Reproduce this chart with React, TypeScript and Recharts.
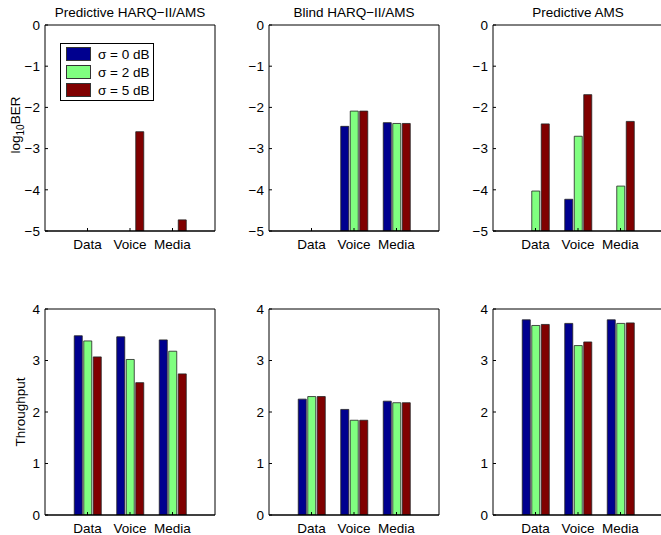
import { BarChart, Bar, XAxis, YAxis, Legend } from "recharts";

const categories = ["Data", "Voice", "Media"];
const seriesNames = ["σ = 0 dB", "σ = 2 dB", "σ = 5 dB"];
const seriesColors = ["#00008f", "#80ff80", "#800000"];
const titles = ["Predictive HARQ−II/AMS", "Blind HARQ−II/AMS", "Predictive AMS"];

// log10 BER (Data, Voice, Media)
const berPredHarq0 = [-5, -5, -5];
const berPredHarq2 = [-5, -5, -5];
const berPredHarq5 = [-5, -2.59, -4.73];
const berBlindHarq0 = [-5, -2.46, -2.37];
const berBlindHarq2 = [-5, -2.09, -2.39];
const berBlindHarq5 = [-5, -2.09, -2.39];
const berPredAms0 = [-5, -4.23, -5];
const berPredAms2 = [-4.03, -2.7, -3.91];
const berPredAms5 = [-2.4, -1.69, -2.34];

// throughput (Data, Voice, Media)
const thrPredHarq0 = [3.48, 3.46, 3.4];
const thrPredHarq2 = [3.38, 3.02, 3.18];
const thrPredHarq5 = [3.07, 2.57, 2.74];
const thrBlindHarq0 = [2.25, 2.05, 2.21];
const thrBlindHarq2 = [2.3, 1.84, 2.18];
const thrBlindHarq5 = [2.3, 1.84, 2.18];
const thrPredAms0 = [3.79, 3.72, 3.79];
const thrPredAms2 = [3.68, 3.29, 3.72];
const thrPredAms5 = [3.7, 3.36, 3.73];

const berTicks = [-5, -4, -3, -2, -1, 0];
const thrTicks = [0, 1, 2, 3, 4];

const FONT = '"Liberation Sans", Arial, Helvetica, sans-serif';
const FS = 13.5;

const toRows = (a: number[], b: number[], c: number[]) =>
  categories.map((cat, i) => ({ cat, s0: a[i], s1: b[i], s2: c[i] }));

const fmt = (v: number) => (v < 0 ? `−${-v}` : `${v}`);

const YTitle = (props: any) => {
  const vb = props.viewBox || { y: 25, height: 206 };
  const cy = vb.y + vb.height / 2 + (props.dy || 0);
  const { x0, sub } = props;
  return (
    <text
      transform={`translate(${x0},${cy}) rotate(-90)`}
      textAnchor="middle"
      fontSize={FS}
      fontFamily={FONT}
      fill="#000"
    >
      {sub ? (
        <>
          log
          <tspan dy={4} fontSize={10}>
            10
          </tspan>
          <tspan dy={-4}>BER</tspan>
        </>
      ) : (
        props.text
      )}
    </text>
  );
};

const LegendBox = ({ payload }: any) => (
  <div
    style={{
      border: "1.5px solid #000",
      background: "#fff",
      width: 92,
      fontFamily: FONT,
      fontSize: FS,
      padding: "1px 0",
    }}
  >
    {(payload || []).map((p: any) => (
      <div key={p.value} style={{ display: "flex", alignItems: "center", height: 18 }}>
        <span
          style={{
            display: "inline-block",
            marginLeft: 5,
            width: 23,
            height: 12,
            background: p.color,
            border: "1px solid #333",
          }}
        />
        <span style={{ marginLeft: 7 }}>{p.value}</span>
      </div>
    ))}
  </div>
);

interface PanelProps {
  left: number;
  top: number;
  title?: string;
  data: any[];
  domain: [number, number];
  ticks: number[];
  base?: number;
  yLabel?: any;
  showLegend?: boolean;
}

const Panel = ({ left, top, title, data, domain, ticks, base, yLabel, showLegend }: PanelProps) => {
  const keyFor = (k: string) =>
    base !== undefined ? (d: any) => [base, d[k]] : k;
  return (
    <div style={{ position: "absolute", left, top }}>
      <BarChart
        width={220}
        height={261}
        data={data}
        margin={{ top: 24, right: 4, bottom: 0, left: 0 }}
        barSize={8}
        barGap={1.5}
        style={{ fontFamily: FONT }}
      >
        <XAxis
          dataKey="cat"
          height={30}
          padding={{ left: 21.25, right: 21.25 }}
          tick={{ fill: "#000", fontSize: FS }}
          tickSize={-3}
          tickMargin={11}
          tickLine={{ stroke: "#000" }}
          axisLine={{ stroke: "#000", strokeWidth: 1.3 }}
        />
        <XAxis
          xAxisId="t"
          orientation="top"
          dataKey="cat"
          height={1}
          padding={{ left: 21.25, right: 21.25 }}
          tick={false}
          tickSize={-3}
          tickLine={{ stroke: "#000" }}
          axisLine={{ stroke: "#000" }}
          label={
            title
              ? { value: title, position: "top", offset: 7, fill: "#000", fontSize: FS }
              : undefined
          }
        />
        <YAxis
          type="number"
          width={45}
          domain={domain}
          ticks={ticks}
          allowDataOverflow
          tickFormatter={fmt}
          tick={{ fill: "#000", fontSize: FS }}
          tickSize={-3}
          tickMargin={8}
          tickLine={{ stroke: "#000" }}
          axisLine={{ stroke: "#000" }}
          label={yLabel}
        />
        <YAxis
          yAxisId="r"
          orientation="right"
          type="number"
          width={1}
          domain={domain}
          ticks={ticks}
          allowDataOverflow
          tick={false}
          tickSize={-3}
          tickLine={{ stroke: "#000" }}
          axisLine={{ stroke: "#000" }}
        />
        {showLegend && (
          <Legend
            layout="horizontal"
            verticalAlign="middle"
            align="center"
            wrapperStyle={{ left: 60, top: 43, width: 95 }}
            content={<LegendBox />}
          />
        )}
        {["s0", "s1", "s2"].map((k, i) => (
          <Bar
            key={k}
            dataKey={keyFor(k) as any}
            name={seriesNames[i]}
            fill={seriesColors[i]}
            stroke="#222"
            strokeWidth={0.8}
            isAnimationActive={false}
          />
        ))}
      </BarChart>
    </div>
  );
};

export default function App() {
  return (
    <div
      style={{
        position: "absolute",
        left: 0,
        top: 0,
        width: 661,
        height: 535,
        overflow: "hidden",
        background: "#fff",
        fontFamily: FONT,
      }}
    >
      <Panel
        left={0}
        top={0}
        title={titles[0]}
        data={toRows(berPredHarq0, berPredHarq2, berPredHarq5)}
        domain={[-5, 0]}
        ticks={berTicks}
        base={-5}
        yLabel={<YTitle x0={19.5} dy={-3} sub />}
        showLegend
      />
      <Panel
        left={224}
        top={0}
        title={titles[1]}
        data={toRows(berBlindHarq0, berBlindHarq2, berBlindHarq5)}
        domain={[-5, 0]}
        ticks={berTicks}
        base={-5}
      />
      <Panel
        left={448}
        top={0}
        title={titles[2]}
        data={toRows(berPredAms0, berPredAms2, berPredAms5)}
        domain={[-5, 0]}
        ticks={berTicks}
        base={-5}
      />
      <Panel
        left={0}
        top={284}
        data={toRows(thrPredHarq0, thrPredHarq2, thrPredHarq5)}
        domain={[0, 4]}
        ticks={thrTicks}
        yLabel={<YTitle x0={24.5} text="Throughput" />}
      />
      <Panel
        left={224}
        top={284}
        data={toRows(thrBlindHarq0, thrBlindHarq2, thrBlindHarq5)}
        domain={[0, 4]}
        ticks={thrTicks}
      />
      <Panel
        left={448}
        top={284}
        data={toRows(thrPredAms0, thrPredAms2, thrPredAms5)}
        domain={[0, 4]}
        ticks={thrTicks}
      />
    </div>
  );
}
